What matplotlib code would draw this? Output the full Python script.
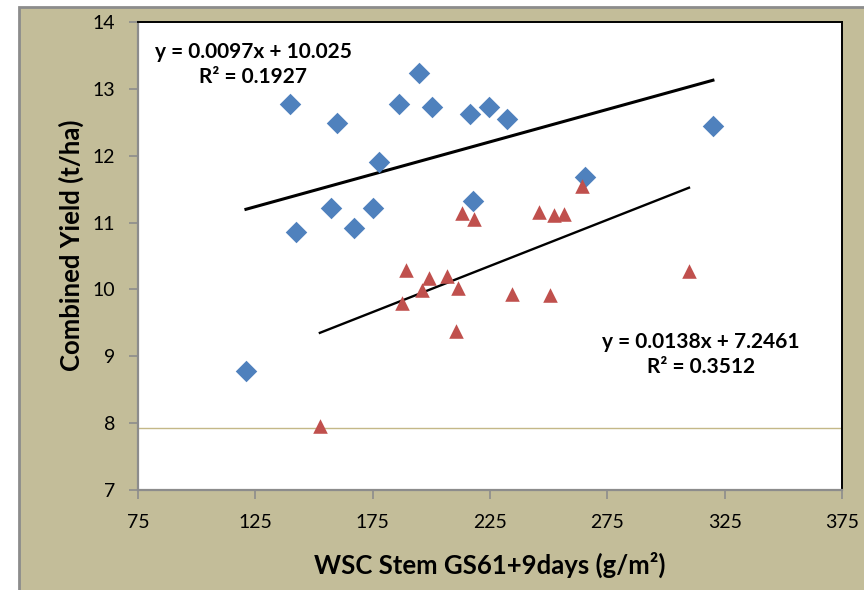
import numpy as np
import matplotlib.pyplot as plt
from matplotlib.patches import Rectangle

plt.rcParams['font.family'] = ['Lato', 'DejaVu Sans']

# Series 1 (diamonds)
wsc_a = [121, 139.8, 142.3, 159.8, 157.2, 167, 175, 177.7, 186.2, 194.7,
         200.3, 216.5, 217.7, 224.6, 232.2, 265.5, 320]
yield_a = [8.78, 12.77, 10.86, 12.49, 11.22, 10.92, 11.22, 11.91, 12.77, 13.24,
           12.73, 12.62, 11.32, 12.73, 12.55, 11.68, 12.44]

# Series 2 (triangles)
wsc_b = [152.5, 187.5, 189.4, 196, 199.1, 206.6, 210.6, 211.5, 212.9, 218.2,
         234.4, 245.9, 250.4, 252.2, 256.6, 264, 309.8]
yield_b = [7.96, 9.80, 10.29, 9.99, 10.17, 10.20, 9.38, 10.02, 11.15, 11.06,
           9.93, 11.16, 9.92, 11.12, 11.13, 11.54, 10.28]

# Trend line equations (slope, intercept, R^2)
fit_a = (0.0097, 10.025, 0.1927)
fit_b = (0.0138, 7.2461, 0.3512)

x_ticks = [75, 125, 175, 225, 275, 325, 375]
y_ticks = [7, 8, 9, 10, 11, 12, 13, 14]
ref_level = 7.93

tan = '#C3BD99'
grey = '#8C8C8C'

fig = plt.figure(figsize=(8.64, 5.9), dpi=100)
fig.patch.set_facecolor('white')
bg = Rectangle((19 / 864, -0.01), 1.0, (590 - 7) / 590 + 0.01,
               transform=fig.transFigure, facecolor=tan,
               edgecolor=grey, linewidth=2, zorder=-10)
fig.add_artist(bg)

ax = fig.add_axes([138 / 864, (590 - 490) / 590, (842 - 138) / 864, (490 - 22) / 590])
ax.set_facecolor('white')

ax.axhline(ref_level, color='#C4B888', linewidth=1, zorder=1)

ax.scatter(wsc_a, yield_a, marker='D', s=120, color='#4F81BD', zorder=3, linewidths=0)
ax.scatter(wsc_b, yield_b, marker='^', s=110, color='#C0504D', zorder=3, linewidths=0)

for xs, (m, c, r2), lw in [(wsc_a, fit_a, 2.2), (wsc_b, fit_b, 1.7)]:
    xl = np.array([min(xs), max(xs)])
    ax.plot(xl, m * xl + c, color='black', linewidth=lw, zorder=2)

ax.text(124, 13.37, f'y = {fit_a[0]}x + {fit_a[1]}\nR\u00b2 = {fit_a[2]}',
        ha='center', va='center', fontsize=15, fontweight='bold',
        linespacing=1.3, multialignment='center')
ax.text(315, 9.03, f'y = {fit_b[0]}x + {fit_b[1]}\nR\u00b2 = {fit_b[2]}',
        ha='center', va='center', fontsize=15, fontweight='bold',
        linespacing=1.3, multialignment='center')

ax.set_xlim(75, 375)
ax.set_ylim(7, 14)
ax.set_xticks(x_ticks)
ax.set_yticks(y_ticks)
ax.tick_params(axis='both', direction='out', length=6.5, width=1.2, color=grey,
               labelsize=14)
ax.tick_params(axis='x', pad=11)
ax.tick_params(axis='y', pad=10)

for side in ['left', 'bottom']:
    ax.spines[side].set_color(grey)
    ax.spines[side].set_linewidth(1.6)
for side in ['top', 'right']:
    ax.spines[side].set_color('black')
    ax.spines[side].set_linewidth(1.4)

ax.set_xlabel('WSC Stem GS61+9days (g/m\u00b2)', fontsize=18.5, fontweight='bold')
ax.set_ylabel('Combined Yield (t/ha)', fontsize=18.5, fontweight='bold')
ax.xaxis.set_label_coords((490 - 138) / 704, -(565 - 490) / 468)
ax.yaxis.set_label_coords(-(138 - 71) / 704, (490 - 245) / 468)
ax.xaxis.label.set_va('center')
ax.yaxis.label.set_va('center')

fig.savefig('out.png', dpi=100)
